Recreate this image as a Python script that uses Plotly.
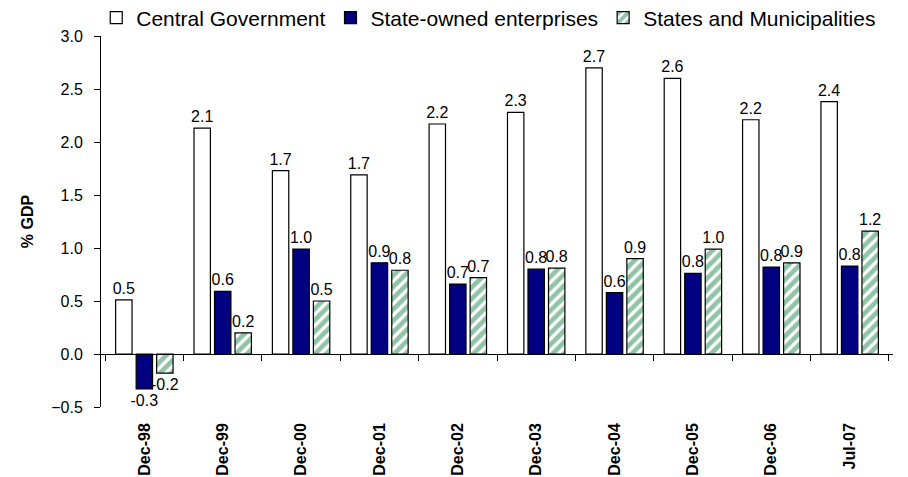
import plotly.graph_objects as go

categories = ["Dec-98", "Dec-99", "Dec-00", "Dec-01", "Dec-02", "Dec-03", "Dec-04", "Dec-05", "Dec-06", "Jul-07"]
central_gov = [0.51, 2.13, 1.73, 1.69, 2.17, 2.28, 2.70, 2.60, 2.21, 2.38]
state_owned = [-0.33, 0.59, 0.99, 0.86, 0.66, 0.80, 0.58, 0.76, 0.82, 0.83]
states_munic = [-0.18, 0.20, 0.50, 0.79, 0.72, 0.81, 0.90, 0.99, 0.86, 1.16]

FONT = "Liberation Sans, Arial, sans-serif"
label_font = dict(family=FONT, size=16, color="black")

fig = go.Figure()
fig.add_trace(go.Bar(
    name="Central Government", x=categories, y=central_gov,
    marker=dict(color="white", line=dict(color="black", width=1.2)),
    texttemplate="%{y:.1f}", textposition="outside", textfont=label_font,
    constraintext="none", cliponaxis=False,
))
fig.add_trace(go.Bar(
    name="State-owned enterprises", x=categories, y=state_owned,
    marker=dict(color="#000080", line=dict(color="black", width=1.2)),
    texttemplate="%{y:.1f}", textposition="outside", textfont=label_font,
    constraintext="none", cliponaxis=False,
))
fig.add_trace(go.Bar(
    name="States and Municipalities", x=categories, y=states_munic,
    marker=dict(color="white", line=dict(color="black", width=1.2),
                pattern=dict(shape="/", fgcolor="#23894f", bgcolor="white", size=8, solidity=0.6)),
    texttemplate="%{y:.1f}", textposition="outside", textfont=label_font,
    constraintext="none", cliponaxis=False,
))
# invisible trace to drive the category axis drawn at zero
fig.add_trace(go.Scatter(
    x=categories, y=central_gov, xaxis="x2", mode="markers",
    marker=dict(opacity=0), showlegend=False, hoverinfo="skip",
))

fig.update_layout(
    width=900, height=469,
    margin=dict(l=93, r=15, t=28, b=70, autoexpand=False),
    paper_bgcolor="white", plot_bgcolor="white",
    barmode="group", bargap=0.215, bargroupgap=0.2,
    font=dict(family=FONT, size=14, color="black"),
    showlegend=True,
    legend=dict(orientation="h", x=-0.006, xanchor="left",
                y=1.0485, yanchor="middle",
                font=dict(family=FONT, size=21, color="black"),
                itemwidth=30, tracegroupgap=0, bgcolor="rgba(0,0,0,0)"),
    xaxis=dict(
        type="category", categoryorder="array", categoryarray=categories,
        showline=False, ticks="", showgrid=False, zeroline=False,
        tickangle=-90, ticklabelstandoff=12, automargin=False,
        tickfont=dict(family=FONT, size=16, color="black", weight="bold"),
    ),
    xaxis2=dict(
        type="category", categoryorder="array", categoryarray=categories,
        overlaying="x", matches="x", anchor="free", position=0.5 / 3.5,
        showline=True, linecolor="black", linewidth=1,
        ticks="outside", tickson="boundaries", ticklen=6, tickcolor="black",
        showticklabels=False, showgrid=False, zeroline=False,
    ),
    yaxis=dict(
        range=[-0.5, 3.0], dtick=0.5, tickformat=".1f",
        showline=True, linecolor="black", linewidth=1,
        ticks="outside", ticklen=6, tickcolor="black", ticklabelstandoff=8,
        showgrid=False, zeroline=False, automargin=False,
        tickfont=dict(family=FONT, size=16, color="black"),
        title=dict(text="% GDP", font=dict(family=FONT, size=16, color="black", weight="bold"), standoff=13),
    ),
)

fig.write_html("out.html")
